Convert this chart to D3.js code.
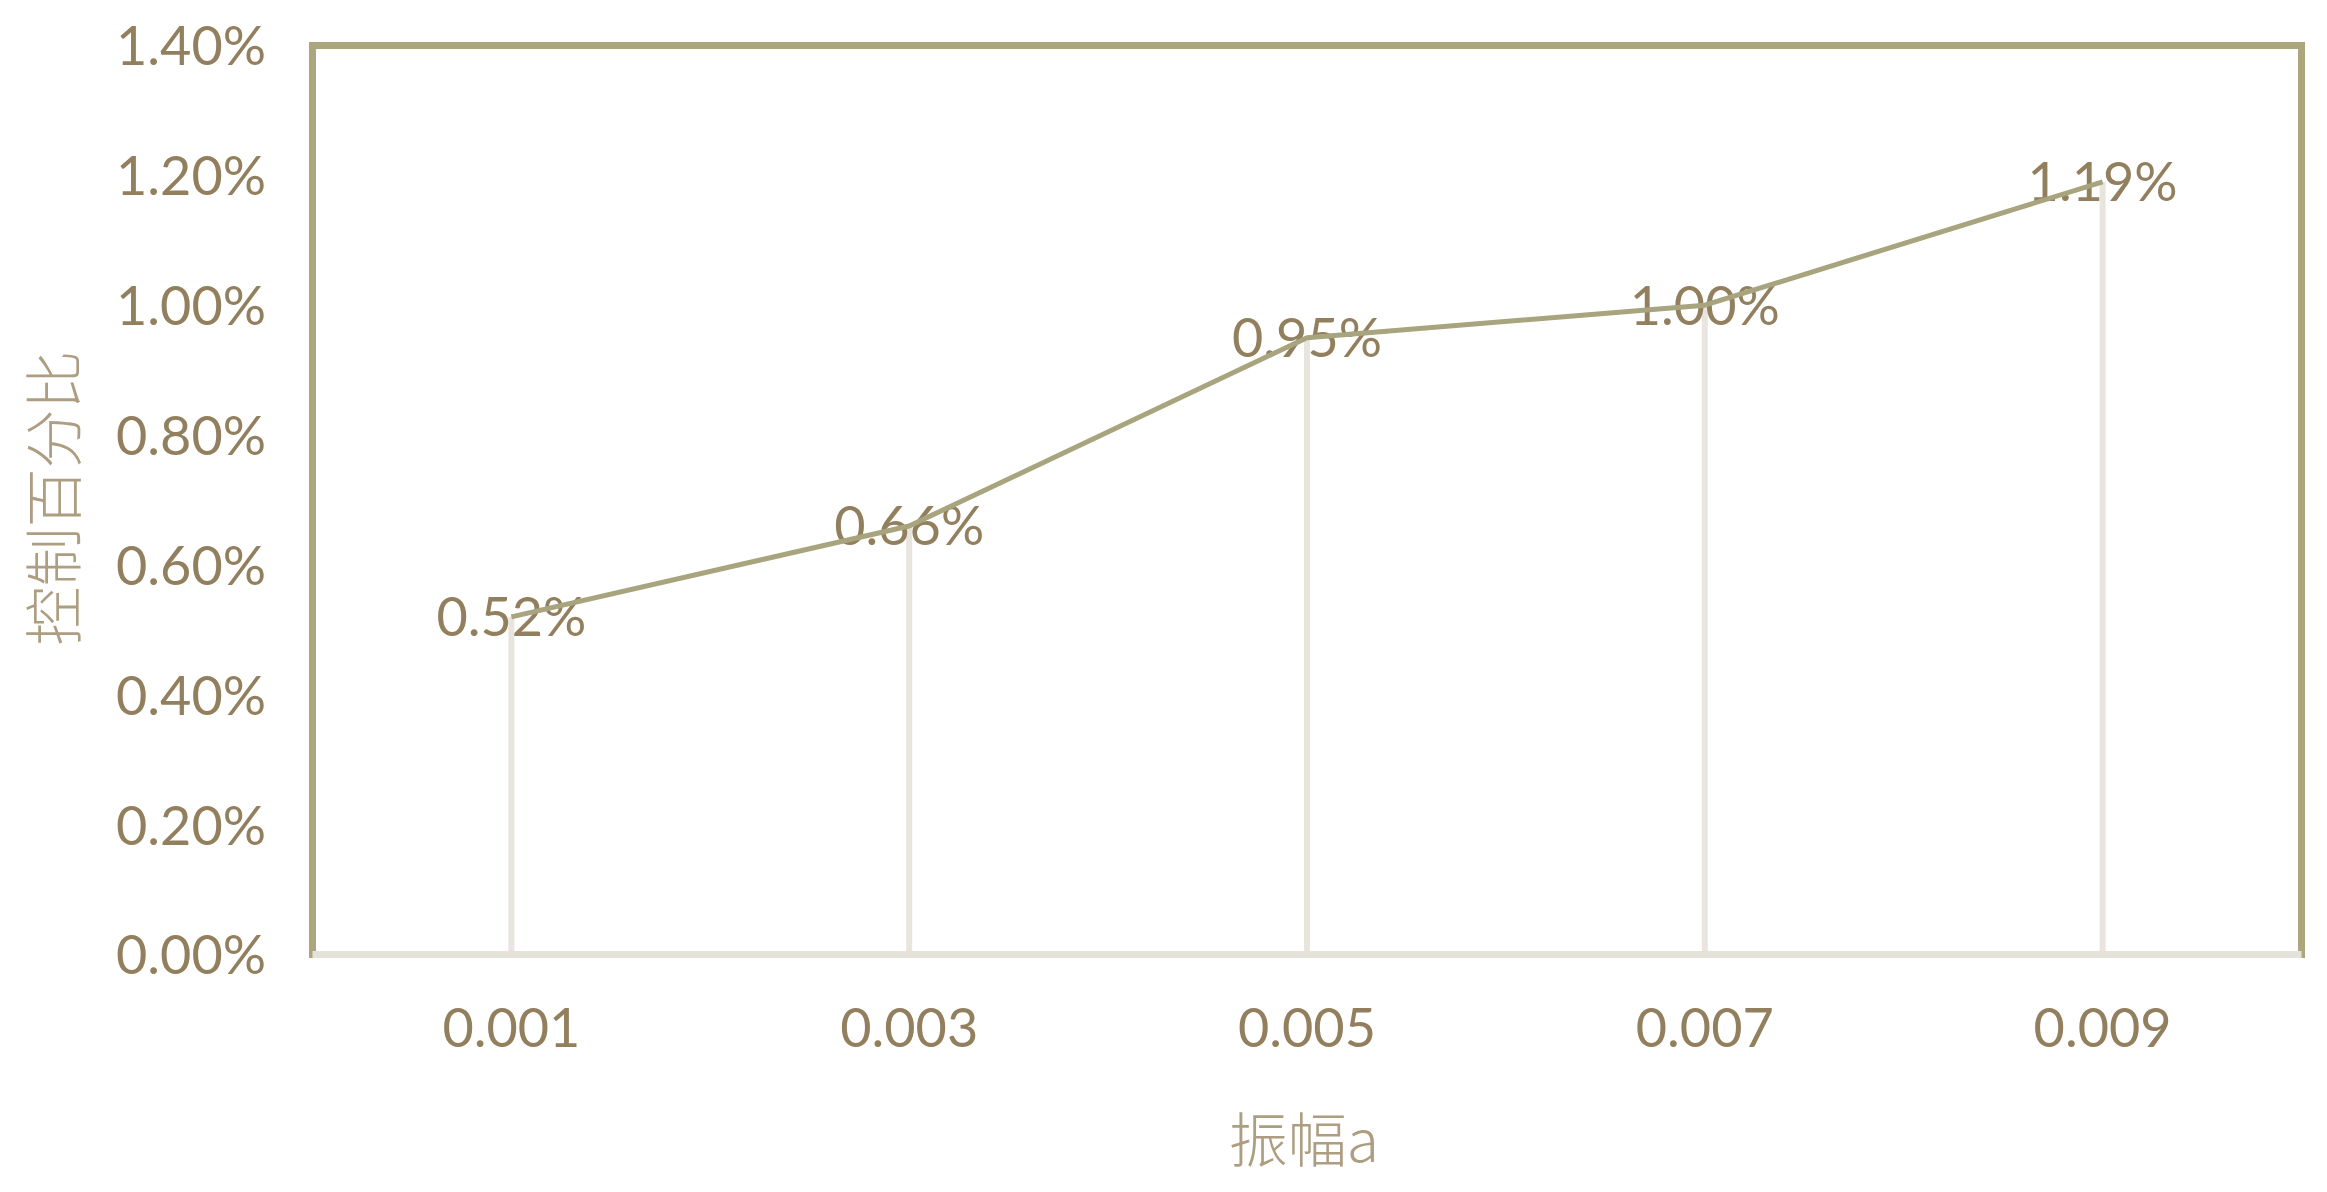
<!DOCTYPE html>
<html>
<head>
<meta charset="utf-8">
<script src="https://cdn.jsdelivr.net/npm/d3@7"></script>
<style>
  html, body { margin: 0; padding: 0; background: #ffffff; }
  svg { display: block; }
</style>
</head>
<body>
<script>
const categories = ["0.001", "0.003", "0.005", "0.007", "0.009"];
const values = [0.0052, 0.0066, 0.0095, 0.0100, 0.0119];
const yTicks = [0, 0.002, 0.004, 0.006, 0.008, 0.010, 0.012, 0.014];
const xTitle = "振幅a";
const yTitle = "控制百分比";

const W = 2327, H = 1192;
const plot = { left: 312.5, right: 2301.5, top: 45.5, bottom: 954.5 };

const frameColor = "#aba67c";
const lineColor = "#a8a47e";
const axisColor = "#e5e2da";
const dropColor = "#e8e5de";
const textColor = "#927f5e";
const titleColor = "#ad9e81";
const numFont = "Lato, 'Open Sans', sans-serif";
const cjkFont = "'Noto Sans CJK SC', 'Noto Sans', sans-serif";

const svg = d3.select("body").append("svg")
  .attr("width", W).attr("height", H);

const x = d3.scaleBand().domain(categories)
  .range([plot.left, plot.right]).padding(0);
const y = d3.scaleLinear().domain([0, 0.014])
  .range([plot.bottom, plot.top]);
const cx = d => x(d) + x.bandwidth() / 2;
const pct = d3.format(".2%");

// frame
svg.append("rect")
  .attr("x", plot.left).attr("y", plot.top)
  .attr("width", plot.right - plot.left)
  .attr("height", plot.bottom - plot.top)
  .attr("fill", "none")
  .attr("stroke", frameColor)
  .attr("stroke-width", 7);

// y axis labels
const yAxis = d3.axisLeft(y).tickValues(yTicks).tickFormat(pct).tickSize(0).tickPadding(0);
const gy = svg.append("g").attr("transform", `translate(266,0)`).call(yAxis);
gy.select(".domain").remove();
gy.selectAll("text")
  .attr("fill", textColor)
  .attr("font-family", numFont)
  .attr("font-size", 54)
  .attr("dy", "0.36em");

// x axis labels
const xAxis = d3.axisBottom(x).tickSize(0).tickPadding(0);
const gx = svg.append("g").attr("transform", `translate(0,1028)`).call(xAxis);
gx.select(".domain").remove();
gx.selectAll("text")
  .attr("fill", textColor)
  .attr("font-family", numFont)
  .attr("font-size", 54)
  .attr("dy", "0.36em");

// drop lines
const data = categories.map((c, i) => ({ c, v: values[i] }));
svg.append("g").selectAll("line").data(data).join("line")
  .attr("x1", d => cx(d.c)).attr("x2", d => cx(d.c))
  .attr("y1", d => y(d.v)).attr("y2", y(0))
  .attr("stroke", dropColor)
  .attr("stroke-width", 6);

// bottom axis line
svg.append("line")
  .attr("x1", plot.left).attr("x2", plot.right)
  .attr("y1", y(0)).attr("y2", y(0))
  .attr("stroke", axisColor)
  .attr("stroke-width", 7);

// data labels
svg.append("g").selectAll("text").data(data).join("text")
  .attr("x", d => cx(d.c))
  .attr("y", d => y(d.v))
  .attr("dy", "0.36em")
  .attr("text-anchor", "middle")
  .attr("fill", textColor)
  .attr("font-family", numFont)
  .attr("font-size", 54)
  .text(d => pct(d.v));

// series line
svg.append("path")
  .datum(data)
  .attr("fill", "none")
  .attr("stroke", lineColor)
  .attr("stroke-width", 5)
  .attr("stroke-linejoin", "round")
  .attr("d", d3.line().x(d => cx(d.c)).y(d => y(d.v)));

// axis titles
svg.append("text")
  .attr("transform", "translate(50,498) rotate(-90)")
  .attr("text-anchor", "middle")
  .attr("dominant-baseline", "central")
  .attr("fill", titleColor)
  .attr("font-family", cjkFont)
  .attr("font-weight", 300)
  .attr("font-size", 59)
  .text(yTitle);

svg.append("text")
  .attr("x", 1304).attr("y", 1136)
  .attr("text-anchor", "middle")
  .attr("dominant-baseline", "central")
  .attr("fill", titleColor)
  .attr("font-family", cjkFont)
  .attr("font-weight", 300)
  .attr("font-size", 59)
  .text(xTitle);
</script>
</body>
</html>
